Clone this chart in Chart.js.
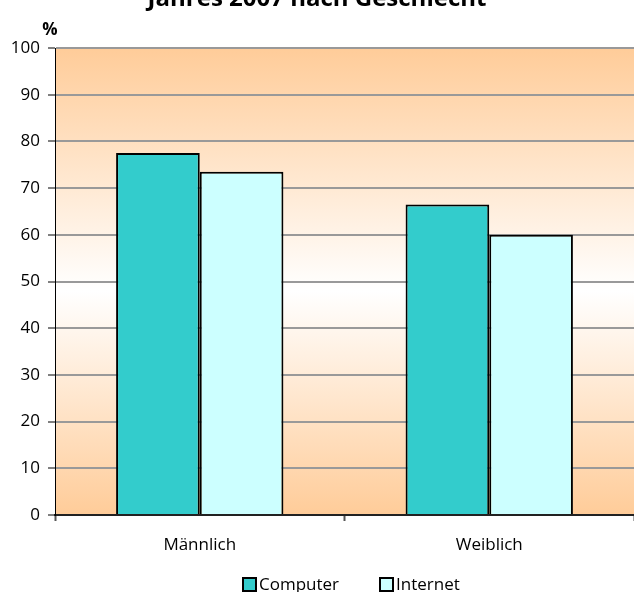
<!DOCTYPE html>
<html>
<head>
<meta charset="utf-8">
<script src="https://cdn.jsdelivr.net/npm/chart.js@4.4.0/dist/chart.umd.min.js"></script>
<style>
  html, body { margin: 0; padding: 0; background: #fff; }
  #wrap { width: 634px; height: 592px; position: relative; }
</style>
</head>
<body>
<div id="wrap"><canvas id="chart"></canvas></div>
<script>
// data
const categories = ['Männlich', 'Weiblich'];
const computerValues = [77.5, 66.5];
const internetValues = [73.5, 60];
const yTicks = [0, 10, 20, 30, 40, 50, 60, 70, 80, 90, 100];

const FONT = '"Open Sans", "Noto Sans", sans-serif';

// orange -> white -> orange fill behind the plot area
const plotBackground = {
  id: 'plotBackground',
  beforeDraw(chart) {
    const { ctx, chartArea } = chart;
    const g = ctx.createLinearGradient(0, chartArea.top, 0, chartArea.bottom);
    g.addColorStop(0, '#FFCC99');
    g.addColorStop(0.52, '#FFFFFF');
    g.addColorStop(1, '#FFCC99');
    ctx.save();
    ctx.fillStyle = g;
    ctx.fillRect(chartArea.left, chartArea.top, chartArea.right - chartArea.left, chartArea.bottom - chartArea.top);
    ctx.restore();
  }
};

// title (cut off at the top edge), unit label and the legend cut off at the bottom
const extras = {
  id: 'extras',
  afterDraw(chart) {
    const { ctx } = chart;
    ctx.save();
    ctx.fillStyle = '#000';
    ctx.font = 'bold 24px ' + FONT;
    ctx.textAlign = 'center';
    ctx.textBaseline = 'alphabetic';
    ctx.fillText('Jahres 2007 nach Geschlecht', 317, 6);
    ctx.font = 'bold 17px ' + FONT;
    ctx.fillText('%', 50, 35);

    // legend
    const legendX = [243, 380];
    ctx.font = '17px ' + FONT;
    ctx.textAlign = 'left';
    chart.data.datasets.forEach((ds, i) => {
      const x = legendX[i];
      ctx.fillStyle = ds.backgroundColor;
      ctx.fillRect(x, 578, 13, 13);
      ctx.strokeStyle = '#000';
      ctx.lineWidth = 2;
      ctx.strokeRect(x, 578, 13, 13);
      ctx.fillStyle = '#000';
      ctx.fillText(ds.label, x + 16, 590);
    });
    ctx.restore();
  }
};

new Chart(document.getElementById('chart'), {
  type: 'bar',
  data: {
    labels: categories,
    datasets: [{
      label: 'Computer',
      data: computerValues,
      backgroundColor: '#33CCCC',
      borderColor: '#000',
      borderWidth: 2
    }, {
      label: 'Internet',
      data: internetValues,
      backgroundColor: '#CCFFFF',
      borderColor: '#000',
      borderWidth: 2
    }]
  },
  options: {
    responsive: true,
    maintainAspectRatio: false,
    animation: false,
    layout: { padding: { top: 48, left: 0, right: 0, bottom: 0 } },
    datasets: { bar: { categoryPercentage: 0.578, barPercentage: 1 } },
    scales: {
      x: {
        grid: { drawOnChartArea: false, drawTicks: true, tickLength: 6, tickColor: '#555', tickWidth: 2 },
        border: { display: true, color: '#222', width: 2 },
        ticks: { color: '#000', font: { family: FONT, size: 17 }, padding: 14 },
        afterFit(scale) { scale.height = 77; }
      },
      y: {
        min: 0,
        max: 100,
        afterBuildTicks(scale) { scale.ticks = yTicks.map(v => ({ value: v })); },
        grid: { color: '#999', lineWidth: 2, tickColor: '#000', tickLength: 7, tickWidth: 1 },
        border: { display: true, color: '#000', width: 1 },
        ticks: { color: '#000', font: { family: FONT, size: 17 }, padding: 8 },
        afterFit(scale) { scale.width = 55; }
      }
    },
    plugins: {
      legend: { display: false },
      tooltip: { enabled: false }
    }
  },
  plugins: [plotBackground, extras]
});
</script>
</body>
</html>
